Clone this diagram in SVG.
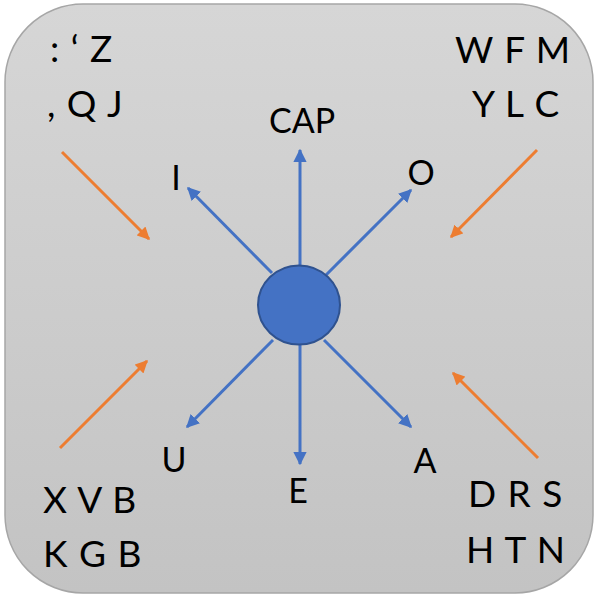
<svg xmlns="http://www.w3.org/2000/svg" width="600" height="600" viewBox="0 0 600 600">
  <defs>
    <linearGradient id="panelFill" x1="0" y1="0" x2="0" y2="1">
      <stop offset="0" stop-color="#d6d6d6"/>
      <stop offset="1" stop-color="#c3c3c3"/>
    </linearGradient>
    <marker id="headBlue" viewBox="0 0 10 10" refX="9" refY="5" markerWidth="4.4" markerHeight="4.4" orient="auto" markerUnits="strokeWidth">
      <path d="M0,0 L10,5 L0,10 Z" fill="#4472c4"/>
    </marker>
    <marker id="headOrange" viewBox="0 0 10 10" refX="9" refY="5" markerWidth="4.2" markerHeight="4.2" orient="auto" markerUnits="strokeWidth">
      <path d="M0,0 L10,5 L0,10 Z" fill="#ed7d31"/>
    </marker>
  </defs>
  <style>
    .lbl { font-family: Lato, "Open Sans", "Liberation Sans", sans-serif; fill: #000; }
    .vowel { font-size: 34px; }
    .keys { font-size: 37px; word-spacing: 2px; }
    .spoke { stroke: #4472c4; stroke-width: 3; fill: none; marker-end: url(#headBlue); }
    .feed { stroke: #ed7d31; stroke-width: 3; fill: none; marker-end: url(#headOrange); }
  </style>

  <rect x="5" y="4" width="588" height="589" rx="78" ry="78" fill="url(#panelFill)" stroke="#a6a6a6" stroke-width="1.5"/>

  <g id="connectors">
    <line class="spoke" x1="300" y1="266" x2="300" y2="150"/>
    <line class="spoke" x1="272" y1="273" x2="188" y2="188"/>
    <line class="spoke" x1="326" y1="275" x2="411" y2="190"/>
    <line class="spoke" x1="273" y1="340" x2="187" y2="427"/>
    <line class="spoke" x1="300" y1="345" x2="300" y2="464"/>
    <line class="spoke" x1="324" y1="340" x2="411" y2="427"/>
    <line class="feed" x1="62" y1="152" x2="149" y2="239"/>
    <line class="feed" x1="537" y1="150" x2="451" y2="237"/>
    <line class="feed" x1="60" y1="448" x2="147" y2="361"/>
    <line class="feed" x1="538" y1="458" x2="453" y2="373"/>
  </g>

  <g id="hub">
    <ellipse cx="299" cy="305" rx="41" ry="39.5" fill="#4472c4" stroke="#2f528f" stroke-width="2"/>
  </g>

  <g id="cap"><text class="lbl vowel" x="302" y="133" text-anchor="middle">CAP</text></g>
  <g id="i"><text class="lbl vowel" x="176" y="190" text-anchor="middle">I</text></g>
  <g id="o"><text class="lbl vowel" x="421" y="185" text-anchor="middle">O</text></g>
  <g id="u"><text class="lbl vowel" x="174" y="472" text-anchor="middle">U</text></g>
  <g id="e"><text class="lbl vowel" x="298" y="503" text-anchor="middle">E</text></g>
  <g id="a"><text class="lbl vowel" x="425" y="473" text-anchor="middle">A</text></g>

  <g id="top-left">
    <text class="lbl keys" x="50" y="62">: ‘ Z</text>
    <text class="lbl keys" x="47" y="117">, Q J</text>
  </g>
  <g id="top-right">
    <text class="lbl keys" x="455" y="63">W F M</text>
    <text class="lbl keys" x="472" y="117">Y L C</text>
  </g>
  <g id="bottom-left">
    <text class="lbl keys" x="43" y="513">X V B</text>
    <text class="lbl keys" x="43" y="567">K G B</text>
  </g>
  <g id="bottom-right">
    <text class="lbl keys" x="468" y="507">D R S</text>
    <text class="lbl keys" x="466" y="563">H T N</text>
  </g>
</svg>
